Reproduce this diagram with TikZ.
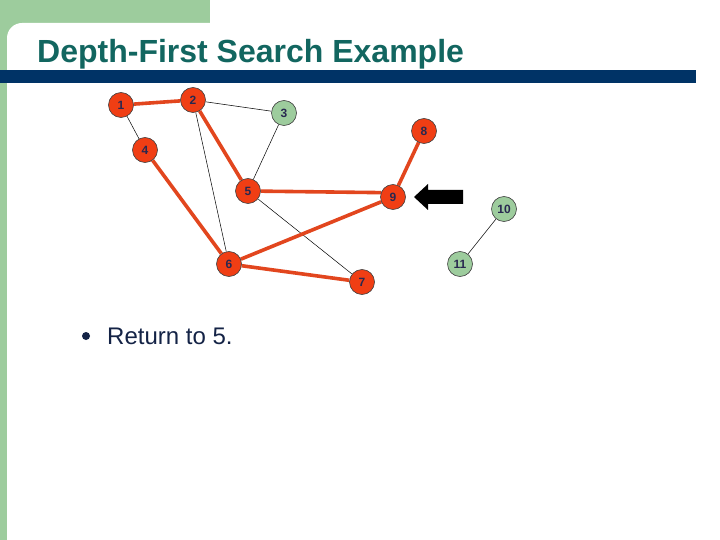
\documentclass[tikz,border=0pt]{standalone}
\usepackage{fontspec}
\setsansfont{Liberation Sans}
\usepackage{tikz}
\usetikzlibrary{backgrounds}
\definecolor{slidegreen}{RGB}{157,204,157}
\definecolor{barcolor}{RGB}{0,51,102}
\definecolor{titlecolor}{RGB}{18,102,96}
\definecolor{visitcolor}{RGB}{240,62,20}
\definecolor{treecolor}{RGB}{226,70,30}
\definecolor{labelcolor}{RGB}{40,40,80}
\definecolor{textcolor}{RGB}{20,35,70}

\tikzset{
    vtx/.style={circle, draw=black!75, line width=0.6pt, fill=visitcolor, minimum size=25pt, inner sep=0pt,
        font=\sffamily\bfseries\fontsize{12}{12}\selectfont, text=labelcolor},
    newvtx/.style={vtx, fill=slidegreen},
    treeedge/.style={treecolor, line width=3.6pt},
    plainedge/.style={black, line width=0.5pt}
}

\begin{document}
\begin{tikzpicture}[x=1pt, y=-1pt]
        \useasboundingbox (0,0) rectangle (720,540);

        % slide frame
        \begin{scope}[on background layer]
            \fill[slidegreen] (0,0) rectangle (210,40);
            \fill[slidegreen] (0,0) rectangle (7,540);
            \fill[white] (7,540) -- (7,38) arc[start angle=180, end angle=270, radius=15] -- (720,23) -- (720,540) -- cycle;
            \fill[barcolor] (0,70) rectangle (696,83);
        \end{scope}

        \node[anchor=base west, inner sep=0pt, font=\sffamily\bfseries\fontsize{32}{32}\selectfont, text=titlecolor] (title) at (37,63) {Depth-First Search Example};

        % vertices
        \node[vtx] (n1) at (121,105) {1};
        \node[vtx] (n2) at (193,100) {2};
        \node[newvtx] (n3) at (284,113) {3};
        \node[vtx] (n4) at (145,150) {4};
        \node[vtx] (n5) at (248,191) {5};
        \node[vtx] (n6) at (229,264) {6};
        \node[vtx] (n7) at (362,282) {7};
        \node[vtx] (n8) at (424,131) {8};
        \node[vtx] (n9) at (393,197) {9};
        \node[newvtx] (n10) at (504,209) {10};
        \node[newvtx] (n11) at (460,264) {11};

        \begin{scope}[on background layer]
            \draw[plainedge] (n1) -- (n4);
            \draw[plainedge] (n2) -- (n3);
            \draw[plainedge] (n3) -- (n5);
            \draw[plainedge] (n2) -- (n6);
            \draw[plainedge] (n5) -- (n7);
            \draw[plainedge] (n10) -- (n11);

            \draw[treeedge] (n1) -- (n2);
            \draw[treeedge] (n2) -- (n5);
            \draw[treeedge] (n4) -- (n6);
            \draw[treeedge] (n5) -- (n9.160);
            \draw[treeedge] (n9) -- (n8);
            \draw[treeedge] (n9) -- (n6);
            \draw[treeedge] (n6) -- (n7);
        \end{scope}

        % current vertex marker
        \fill[black] (414,197) -- (428,184) -- (428,190) -- (463,190) -- (463,204) -- (428,204) -- (428,210) -- cycle;

        \fill[textcolor] (86,336) circle[radius=4];
        \node[anchor=base west, inner sep=0pt, font=\sffamily\fontsize{24}{24}\selectfont, text=textcolor] (step) at (107,344) {Return to 5.};
    \end{tikzpicture}
\end{document}
